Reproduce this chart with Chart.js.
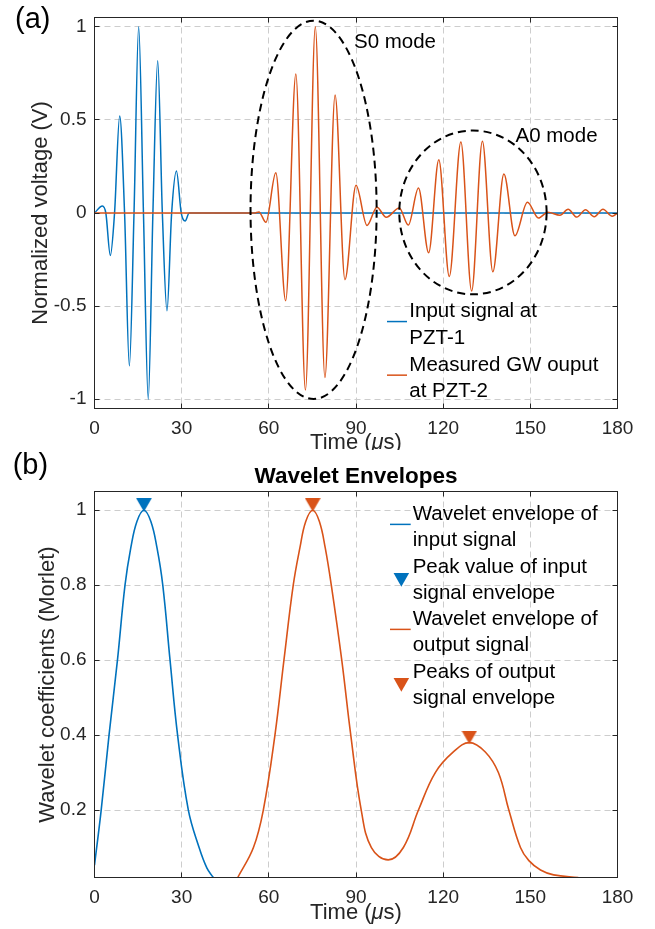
<!DOCTYPE html>
<html>
<head>
<meta charset="utf-8">
<title>Guided wave signals and wavelet envelopes</title>
<script src="https://cdn.jsdelivr.net/npm/chart.js@4.4.0/dist/chart.umd.min.js"></script>
<style>
  html, body { margin: 0; padding: 0; background: #ffffff; }
  #figure { position: relative; width: 655px; height: 929px; overflow: hidden; background: #ffffff; }
  #figure canvas { position: absolute; left: 0; }
  #signalCanvas { top: 0; }
  #envelopeCanvas { top: 450px; }
</style>
</head>
<body>
<div id="figure">
  <canvas id="signalCanvas" width="655" height="450"></canvas>
  <canvas id="envelopeCanvas" width="655" height="479"></canvas>
</div>
<script>
// ---------- data ----------
const timeTicks = [0, 30, 60, 90, 120, 150, 180];
const voltTicks = [-1, -0.5, 0, 0.5, 1];
const voltTickLabels = ['-1', '-0.5', '0', '0.5', '1'];
const coefTicks = [0.2, 0.4, 0.6, 0.8, 1];
const coefTickLabels = ['0.2', '0.4', '0.6', '0.8', '1'];

// excitation burst at PZT-1 (extrema and zero crossings)
const inputTime = [0, 2.7, 3.9, 5.45, 6.9, 8.67, 10.35, 12.0, 13.6, 15.2, 16.85, 18.5, 20.1,
                   21.75, 23.35, 24.95, 26.55, 28.2, 29.85, 31.2, 32.6, 180];
const inputVolt = [0, 0.038, 0, -0.228, 0, 0.521, 0, -0.821, 0, 1.0, 0, -1.0, 0,
                   0.818, 0, -0.525, 0, 0.225, 0, -0.043, 0, 0];

// received guided wave at PZT-2 (extrema)
const outputTime = [0, 55.0, 56.6, 59.0, 62.4, 65.8, 69.3, 72.6, 76.0, 79.3, 82.8, 86.2, 90.0,
                    93.8, 97.2, 100.4, 104.9, 108.0, 111.5, 115.0, 118.5, 122.1, 126.1, 129.8,
                    133.5, 137.1, 140.9, 144.7, 149.0, 152.8, 156.0, 160.2, 163.0, 166.0, 169.0,
                    172.0, 175.0, 178.2, 180];
const outputVolt = [0, 0, 0.006, -0.05, 0.216, -0.471, 0.746, -0.951, 1.0, -0.884, 0.634, -0.358, 0.149,
                    -0.067, 0.031, -0.023, 0.027, -0.065, 0.134, -0.214, 0.286, -0.341, 0.381, -0.419,
                    0.386, -0.316, 0.210, -0.122, 0.058, -0.027, 0.004, -0.012, 0.02, -0.022, 0.018,
                    -0.02, 0.02, -0.018, 0];

// Morlet wavelet envelopes
const envInTime = [0, 2.3, 5.0, 7.9, 10.5, 12.5, 14.6, 17.0, 19.4, 21.5, 23.5, 26.0, 28.6, 32.3, 36.0, 38.7, 40.9];
const envInCoef = [0.053, 0.2, 0.4, 0.6, 0.8, 0.9, 0.97, 1.0, 0.97, 0.9, 0.8, 0.6, 0.4, 0.2, 0.1, 0.045, 0.02];

const envOutTime = [49.3, 54.7, 58.1, 62.1, 65.2, 68.4, 70.7, 72.7, 75.1, 77.4, 79.4, 81.5, 85.1, 88.2,
                    91.8, 95.3, 101.1, 106.3, 111.5, 117.3, 123.5, 129.0, 134.5, 139.0, 142.6, 146.6,
                    149.5, 153.5, 158.0, 166.5];
const envOutCoef = [0.02, 0.1, 0.2, 0.4, 0.6, 0.8, 0.9, 0.97, 1.0, 0.97, 0.9, 0.8, 0.6, 0.4,
                    0.2, 0.1, 0.067, 0.1, 0.2, 0.3, 0.355, 0.38, 0.355, 0.3, 0.2, 0.1,
                    0.065, 0.04, 0.027, 0.02];

const peakInTime = [17.0];
const peakInCoef = [1.0];
const peakOutTime = [75.1, 129.0];
const peakOutCoef = [1.0, 0.38];

// ---------- styling ----------
const FONT = '"Liberation Sans", Arial, Helvetica, sans-serif';
const BLUE = '#0072BD';
const ORANGE = '#D95319';
const AXIS_COLOR = '#262626';
const GRID_COLOR = '#cdcdcd';
const TICK_SIZE = 19;
const LABEL_SIZE = 22;
const LEGEND_SIZE = 20.5;
const font = (size, pre) => (pre ? pre + ' ' : '') + size + 'px ' + FONT;

// dashed outlines marking the two wave packets (data units)
const s0Region = { t: 75.4, v: 0.017, dt: 21.7, dv: 1.016, label: 'S0 mode', labelT: 89.3, labelV: 0.915 };
const a0Region = { t: 130.25, v: 0.003, dt: 25.35, dv: 0.44, label: 'A0 mode', labelT: 144.9, labelV: 0.414 };

const pts = (xs, ys) => xs.map((x, i) => ({ x: x, y: ys[i] }));
const fixedTicks = values => scale => { scale.ticks = values.map(v => ({ value: v })); };
const fixedSize = size => scale => {
  if (scale.isHorizontal()) scale.height = size; else scale.width = size;
  scale.paddingLeft = scale.paddingRight = scale.paddingTop = scale.paddingBottom = 0;
};

function markerImage(color) {
  const c = document.createElement('canvas');
  c.width = 16; c.height = 24;
  const g = c.getContext('2d');
  g.fillStyle = color;
  g.beginPath();
  g.moveTo(0.2, 0); g.lineTo(15.8, 0); g.lineTo(8, 13.6);
  g.closePath(); g.fill();
  return c;
}

function downTriangle(ctx, cx, cy, color) {
  ctx.fillStyle = color;
  ctx.beginPath();
  ctx.moveTo(cx - 7.8, cy - 6.8);
  ctx.lineTo(cx + 7.8, cy - 6.8);
  ctx.lineTo(cx, cy + 6.8);
  ctx.closePath();
  ctx.fill();
}

// grid underneath the curves, box with inward ticks on top
function axesFrame(xGrid, yGrid) {
  return {
    id: 'axesFrame',
    beforeDatasetsDraw(chart) {
      const { ctx, chartArea: a, scales: { x, y } } = chart;
      ctx.save();
      ctx.strokeStyle = GRID_COLOR;
      ctx.lineWidth = 1;
      ctx.setLineDash([6, 4]);
      ctx.beginPath();
      xGrid.forEach(v => {
        const p = Math.floor(x.getPixelForValue(v)) + 0.5;
        if (p > a.left + 1 && p < a.right - 1) { ctx.moveTo(p, a.top); ctx.lineTo(p, a.bottom); }
      });
      yGrid.forEach(v => {
        const p = Math.floor(y.getPixelForValue(v)) + 0.5;
        if (p > a.top + 1 && p < a.bottom - 1) { ctx.moveTo(a.left, p); ctx.lineTo(a.right, p); }
      });
      ctx.stroke();
      ctx.restore();
    },
    afterDatasetsDraw(chart) {
      const { ctx, chartArea: a, scales: { x, y } } = chart;
      const L = 5;
      ctx.save();
      ctx.strokeStyle = AXIS_COLOR;
      ctx.lineWidth = 1;
      ctx.setLineDash([]);
      ctx.strokeRect(a.left, a.top, a.right - a.left, a.bottom - a.top);
      ctx.beginPath();
      xGrid.forEach(v => {
        const p = Math.floor(x.getPixelForValue(v)) + 0.5;
        ctx.moveTo(p, a.top); ctx.lineTo(p, a.top + L);
        ctx.moveTo(p, a.bottom); ctx.lineTo(p, a.bottom - L);
      });
      yGrid.forEach(v => {
        const p = Math.floor(y.getPixelForValue(v)) + 0.5;
        ctx.moveTo(a.left, p); ctx.lineTo(a.left + L, p);
        ctx.moveTo(a.right, p); ctx.lineTo(a.right - L, p);
      });
      ctx.stroke();
      ctx.restore();
    }
  };
}

// axis titles; the time label uses an italic mu
function axisTitles(cfg) {
  return {
    id: 'axisTitles',
    afterDraw(chart) {
      const { ctx, chartArea: a } = chart;
      ctx.save();
      ctx.fillStyle = AXIS_COLOR;
      ctx.textBaseline = 'alphabetic';
      ctx.textAlign = 'left';
      const parts = [{ t: 'Time (', s: '' }, { t: '\u03bc', s: 'italic' }, { t: 's)', s: '' }];
      let total = 0;
      parts.forEach(p => { ctx.font = font(LABEL_SIZE, p.s); p.w = ctx.measureText(p.t).width; total += p.w; });
      let x = (a.left + a.right) / 2 - total / 2;
      const y = a.bottom + cfg.xTitleDrop;
      parts.forEach(p => { ctx.font = font(LABEL_SIZE, p.s); ctx.fillText(p.t, x, y); x += p.w; });

      ctx.translate(cfg.yTitleX, (a.top + a.bottom) / 2);
      ctx.rotate(-Math.PI / 2);
      ctx.font = font(LABEL_SIZE);
      ctx.textAlign = 'center';
      ctx.fillText(cfg.yTitle, 0, 0);
      ctx.restore();

      ctx.save();
      ctx.fillStyle = '#000000';
      ctx.font = font(29);
      ctx.textAlign = 'left';
      ctx.textBaseline = 'alphabetic';
      ctx.fillText(cfg.panel, cfg.panelX, cfg.panelY);
      if (cfg.title) {
        ctx.font = font(22.5, 'bold');
        ctx.textAlign = 'center';
        ctx.fillText(cfg.title, (a.left + a.right) / 2, a.top - 9);
      }
      ctx.restore();
    }
  };
}

function legendBlock(cfg) {
  return {
    id: 'legendBlock',
    afterDraw(chart) {
      const ctx = chart.ctx;
      ctx.save();
      ctx.font = font(LEGEND_SIZE);
      ctx.textAlign = 'left';
      ctx.textBaseline = 'alphabetic';
      let row = 0;
      cfg.entries.forEach(e => {
        const b0 = cfg.baseline0 + row * cfg.lineGap;
        const mid = b0 - 0.358 * LEGEND_SIZE + cfg.lineGap * (e.lines.length - 1) / 2;
        if (e.kind === 'line') {
          ctx.strokeStyle = e.color;
          ctx.lineWidth = 1.5;
          ctx.beginPath();
          ctx.moveTo(cfg.sampleX0, mid - 1.5);
          ctx.lineTo(cfg.sampleX1, mid - 1.5);
          ctx.stroke();
        } else {
          downTriangle(ctx, (cfg.sampleX0 + cfg.sampleX1) / 2 + 1, mid + 1.5, e.color);
        }
        ctx.fillStyle = '#000000';
        e.lines.forEach((t, i) => ctx.fillText(t, cfg.textX, b0 + i * cfg.lineGap));
        row += e.lines.length;
      });
      ctx.restore();
    }
  };
}

// dashed ellipses around the S0 and A0 packets
const modeOutlines = {
  id: 'modeOutlines',
  afterDatasetsDraw(chart) {
    const { ctx, scales: { x, y } } = chart;
    ctx.save();
    [s0Region, a0Region].forEach(r => {
      const cx = x.getPixelForValue(r.t);
      const cy = y.getPixelForValue(r.v);
      const rx = x.getPixelForValue(r.t + r.dt) - cx;
      const ry = cy - y.getPixelForValue(r.v + r.dv);
      ctx.strokeStyle = '#000000';
      ctx.lineWidth = 2;
      ctx.setLineDash([8, 5]);
      ctx.beginPath();
      ctx.ellipse(cx, cy, rx, ry, 0, 0, Math.PI * 2);
      ctx.stroke();
      ctx.setLineDash([]);
      ctx.fillStyle = '#000000';
      ctx.font = font(LEGEND_SIZE);
      ctx.textAlign = 'left';
      ctx.textBaseline = 'middle';
      ctx.fillText(r.label, x.getPixelForValue(r.labelT), y.getPixelForValue(r.labelV));
    });
    ctx.restore();
  }
};

function baseOptions(cfg) {
  return {
    responsive: false,
    animation: false,
    devicePixelRatio: 1,
    events: [],
    layout: { padding: cfg.padding, autoPadding: false },
    elements: {
      point: { radius: 0 },
      line: { borderWidth: 1.5, cubicInterpolationMode: 'monotone', fill: false }
    },
    plugins: { legend: { display: false }, tooltip: { enabled: false }, title: { display: false } },
    scales: {
      x: {
        type: 'linear', min: 0, max: 180,
        afterBuildTicks: fixedTicks(timeTicks),
        afterFit: fixedSize(cfg.xHeight),
        grid: { display: false, drawTicks: false },
        border: { display: false },
        ticks: {
          font: { family: FONT, size: TICK_SIZE }, color: AXIS_COLOR, padding: 8.5,
          maxRotation: 0, autoSkip: false, callback: v => String(v)
        }
      },
      y: {
        type: 'linear', min: cfg.yMin, max: cfg.yMax,
        afterBuildTicks: fixedTicks(cfg.yTicks),
        afterFit: fixedSize(94.5),
        grid: { display: false, drawTicks: false },
        border: { display: false },
        ticks: {
          font: { family: FONT, size: TICK_SIZE }, color: AXIS_COLOR, padding: 8,
          autoSkip: false, callback: (v, i) => cfg.yLabels[i]
        }
      }
    }
  };
}

// ---------- (a) time signals ----------
new Chart(document.getElementById('signalCanvas'), {
  type: 'line',
  data: {
    datasets: [
      { label: 'Input signal at PZT-1', data: pts(inputTime, inputVolt), borderColor: BLUE, order: 2 },
      { label: 'Measured GW ouput at PZT-2', data: pts(outputTime, outputVolt), borderColor: ORANGE, order: 1 }
    ]
  },
  options: baseOptions({
    padding: { left: 0, top: 17.5, right: 37.5, bottom: 0 },
    xHeight: 41.5, yMin: -1.05, yMax: 1.05, yTicks: voltTicks, yLabels: voltTickLabels
  }),
  plugins: [
    axesFrame(timeTicks, voltTicks),
    modeOutlines,
    axisTitles({ xTitleDrop: 40, yTitleX: 47, yTitle: 'Normalized voltage (V)', panel: '(a)', panelX: 15, panelY: 27.5 }),
    legendBlock({
      textX: 409.3, sampleX0: 387, sampleX1: 407, baseline0: 317, lineGap: 26.8,
      entries: [
        { kind: 'line', color: BLUE, lines: ['Input signal at', 'PZT-1'] },
        { kind: 'line', color: ORANGE, lines: ['Measured GW ouput', 'at PZT-2'] }
      ]
    })
  ]
});

// ---------- (b) wavelet envelopes ----------
const envelopeLine = { borderWidth: 1.6, cubicInterpolationMode: 'default', tension: 0.4 };
new Chart(document.getElementById('envelopeCanvas'), {
  type: 'line',
  data: {
    datasets: [
      Object.assign({ label: 'Wavelet envelope of input signal', data: pts(envInTime, envInCoef),
                      borderColor: BLUE, order: 2 }, envelopeLine),
      { label: 'Peak value of input signal envelope', data: pts(peakInTime, peakInCoef), showLine: false,
        pointStyle: markerImage(BLUE), pointRadius: 8, order: 0 },
      Object.assign({ label: 'Wavelet envelope of output signal', data: pts(envOutTime, envOutCoef),
                      borderColor: ORANGE, order: 1 }, envelopeLine),
      { label: 'Peaks of output signal envelope', data: pts(peakOutTime, peakOutCoef), showLine: false,
        pointStyle: markerImage(ORANGE), pointRadius: 8, order: 0 }
    ]
  },
  options: baseOptions({
    padding: { left: 0, top: 41.5, right: 37.5, bottom: 0 },
    xHeight: 51.5, yMin: 0.02, yMax: 1.05, yTicks: coefTicks, yLabels: coefTickLabels
  }),
  plugins: [
    axesFrame(timeTicks, coefTicks),
    axisTitles({ xTitleDrop: 41, yTitleX: 54, yTitle: 'Wavelet coefficients (Morlet)', panel: '(b)', panelX: 12.7, panelY: 24,
                 title: 'Wavelet Envelopes' }),
    legendBlock({
      textX: 412.7, sampleX0: 390, sampleX1: 410.7, baseline0: 70.1, lineGap: 26.25,
      entries: [
        { kind: 'line', color: BLUE, lines: ['Wavelet envelope of', 'input signal'] },
        { kind: 'marker', color: BLUE, lines: ['Peak value of input', 'signal envelope'] },
        { kind: 'line', color: ORANGE, lines: ['Wavelet envelope of', 'output signal'] },
        { kind: 'marker', color: ORANGE, lines: ['Peaks of output', 'signal envelope'] }
      ]
    })
  ]
});
</script>
</body>
</html>
